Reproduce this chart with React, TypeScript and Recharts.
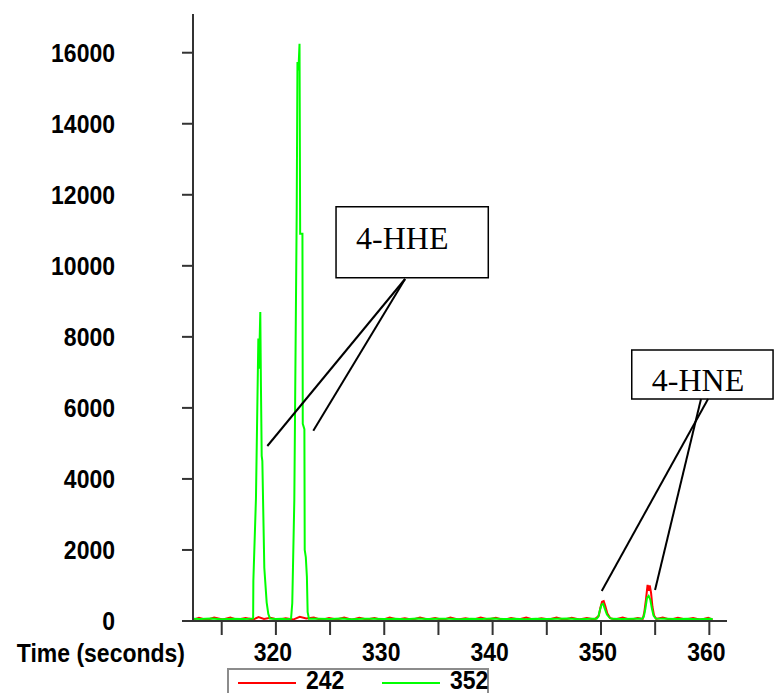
import { LineChart, Line, XAxis, YAxis, Legend, ReferenceLine, ReferenceArea, Label } from 'recharts'

// ion 352 trace (green)
const greenTime = [
  312.4, 313, 314, 315, 316, 317, 317.5, 317.9,
  317.92, 318.16, 318.38, 318.44, 318.5, 318.56, 318.62, 318.69, 318.75, 318.93, 319.15, 319.3, 319.45,
  320, 320.5, 321, 321.4,
  321.51, 321.7, 321.92, 321.99, 322.08, 322.18, 322.24, 322.45, 322.48, 322.63, 322.66, 322.76, 322.86, 322.93, 323.05,
  324, 325, 326, 327, 328, 329, 330, 331, 332, 333, 334, 335, 336, 337, 338, 339, 340, 341, 342, 343, 344, 345, 346, 347, 348, 349, 349.6,
  349.75, 349.9, 350.05, 350.2, 350.35, 350.55, 350.8, 351,
  352, 353, 353.8,
  353.95, 354.1, 354.25, 354.4, 354.55, 354.7, 354.85, 355.05,
  356, 357, 358, 359, 360, 360.3,
]
const greenValue = [
  60, 55, 70, 50, 65, 55, 60, 70,
  1130, 3450, 7950, 7100, 7900, 8700, 6600, 4650, 4500, 1500, 520, 200, 70,
  55, 60, 50, 65,
  500, 3400, 11500, 15740, 15500, 16250, 10900, 10900, 5550, 5400, 2000, 1800, 1250, 250, 65,
  60, 55, 70, 50, 60, 65, 55, 60, 50, 70, 55, 60, 65, 50, 60, 55, 70, 55, 60, 50, 65, 55, 60, 70, 50, 60, 65,
  120, 300, 460, 480, 350, 180, 90, 60,
  55, 60, 65,
  120, 350, 650, 705, 600, 350, 150, 70,
  60, 55, 65, 50, 60, 55,
]

// ion 242 trace (red)
const redTime = [
  312.4, 312.9, 313.6, 314.3, 315.1, 315.8, 316.4, 317.2, 317.9, 318.4, 318.9, 319.5, 320.2, 320.9, 321.6, 322.2,
  322.8, 323.5, 324.2, 324.9, 325.6, 326.3, 327, 327.7, 328.4, 329.1, 329.8, 330.5, 331.2, 331.9, 332.6, 333.3,
  334, 334.7, 335.4, 336.1, 336.8, 337.5, 338.2, 338.9, 339.6, 340.3, 341, 341.7, 342.4, 343.1, 343.8, 344.5,
  345.2, 345.9, 346.6, 347.3, 348, 348.7, 349.4,
  349.8, 349.95, 350.1, 350.25, 350.4, 350.6, 350.85,
  351.3, 352, 352.7, 353.4, 353.85,
  354, 354.15, 354.3, 354.42, 354.5, 354.62, 354.75, 354.9, 355.1,
  355.7, 356.4, 357.1, 357.8, 358.5, 359.2, 359.9, 360.3,
]
const redValue = [
  40, 90, 30, 100, 40, 95, 35, 85, 40, 110, 60, 90, 35, 80, 40, 120,
  70, 95, 30, 85, 40, 100, 35, 90, 40, 85, 30, 95, 40, 80, 35, 100,
  40, 85, 30, 95, 45, 80, 35, 100, 40, 90, 30, 85, 40, 95, 35, 80,
  45, 100, 35, 90, 40, 85, 40,
  150, 380, 540, 560, 420, 200, 80,
  40, 95, 35, 85, 60,
  250, 600, 1015, 850, 1000, 800, 400, 150, 60,
  95, 35, 90, 40, 85, 35, 90, 40,
]

const xTicks = [315, 320, 325, 330, 335, 340, 345, 350, 355, 360]
const yTicks = [0, 2000, 4000, 6000, 8000, 10000, 12000, 14000, 16000]

// callout boxes and pointer lines, in data units
const hheBox = { x1: 325.55, x2: 339.6, y1: 9666, y2: 11665 }
const hneBox = { x1: 352.84, x2: 365.88, y1: 6250, y2: 7630 }
const hheLines = [
  [{ x: 331.92, y: 9629 }, { x: 319.21, y: 4927 }],
  [{ x: 331.92, y: 9629 }, { x: 323.45, y: 5358 }],
]
const hneLines = [
  [{ x: 359.23, y: 6250 }, { x: 354.99, y: 873 }],
  [{ x: 359.88, y: 6250 }, { x: 350.07, y: 845 }],
]

const series = [
  { name: '242', color: '#ff0000', data: redTime.map((t, i) => ({ t, v: redValue[i] })) },
  { name: '352', color: '#00ff00', data: greenTime.map((t, i) => ({ t, v: greenValue[i] })) },
]

const axisFont = '"Liberation Sans", Arial, sans-serif'

const XTick = ({ x, y, payload }: any) => {
  if (payload.value % 10 !== 0) return <g />
  return (
    <text transform={`translate(${x - 3} ${y}) scale(1 1.12)`} textAnchor="middle" dominantBaseline="central"
      fontFamily={axisFont} fontWeight="bold" fontSize={23} fill="#000">{payload.value}</text>
  )
}

const YTick = ({ x, y, payload }: any) => (
  <text transform={`translate(${x} ${y}) scale(1 1.15)`} textAnchor="end" dominantBaseline="central"
    fontFamily={axisFont} fontWeight="bold" fontSize={23} fill="#000">{payload.value}</text>
)

const TimeLabel = ({ viewBox }: any) => (
  <text transform={`translate(${viewBox.x - 8} ${viewBox.y + 32}) scale(1 1.12)`} textAnchor="end" dominantBaseline="central"
    fontFamily={axisFont} fontWeight="bold" fontSize={23} fill="#000">Time (seconds)</text>
)

const boxLabel = (text: string, dy: number) => ({ viewBox }: any) => (
  <text x={viewBox.x + 20} y={viewBox.y + viewBox.height / 2 + dy} dominantBaseline="central"
    fontFamily='"Liberation Serif", "Times New Roman", serif' fontSize={32} fill="#000">{text}</text>
)

const LegendBox = ({ payload }: any) => (
  <div style={{ position: 'relative', width: 262, height: 25, border: '2px solid #8c8c8c', borderBottom: 'none', boxSizing: 'border-box', background: '#fff' }}>
    {(payload || []).map((p: any, i: number) => (
      <div key={p.value} style={{ position: 'absolute', left: 9 + i * 144, top: 0 }}>
        <div style={{ position: 'absolute', left: 0, top: 12, width: 58, height: 2, background: p.color }} />
        <span style={{ position: 'absolute', left: 68, top: 1, fontFamily: axisFont, fontWeight: 'bold', fontSize: 23, lineHeight: '18px', display: 'inline-block', transform: 'scaleY(1.1)' }}>{p.value}</span>
      </div>
    ))}
  </div>
)

export default function App() {
  return (
    <div style={{ position: 'absolute', left: 0, top: 0, width: 774, height: 693, background: '#fff' }}>
      <LineChart width={774} height={693} margin={{ top: 14, right: 47, left: 0, bottom: 32 }}>
        <XAxis type="number" dataKey="t" domain={[312.35, 361.63]} ticks={xTicks} allowDataOverflow
          height={40} tickSize={14} tickMargin={17} tick={XTick}
          axisLine={{ stroke: '#333', strokeWidth: 2 }} tickLine={{ stroke: '#333', strokeWidth: 2 }}>
          <Label content={TimeLabel} />
        </XAxis>
        <YAxis type="number" dataKey="v" domain={[0, 17090]} ticks={yTicks} allowDataOverflow
          width={193} tickSize={11} tickMargin={67} tick={YTick}
          axisLine={{ stroke: '#333', strokeWidth: 2 }} tickLine={{ stroke: '#333', strokeWidth: 2 }} />
        {series.map(s => (
          <Line key={s.name} name={s.name} data={s.data} dataKey="v" type="linear" stroke={s.color}
            strokeWidth={2} dot={false} activeDot={false} isAnimationActive={false} />
        ))}
        {[...hheLines, ...hneLines].map((seg, i) => (
          <ReferenceLine key={i} segment={seg} stroke="#000" strokeWidth={2} ifOverflow="visible" />
        ))}
        <ReferenceArea {...hheBox} fill="#fff" fillOpacity={1} stroke="#000" strokeWidth={1.5} ifOverflow="visible"
          label={boxLabel('4-HHE', -4)} />
        <ReferenceArea {...hneBox} fill="#fff" fillOpacity={1} stroke="#000" strokeWidth={1.5} ifOverflow="visible"
          label={boxLabel('4-HNE', 5)} />
        <Legend layout="horizontal" verticalAlign="middle" align="center" content={LegendBox}
          wrapperStyle={{ top: 668, left: 227, width: 262, height: 25 }} />
      </LineChart>
    </div>
  )
}
